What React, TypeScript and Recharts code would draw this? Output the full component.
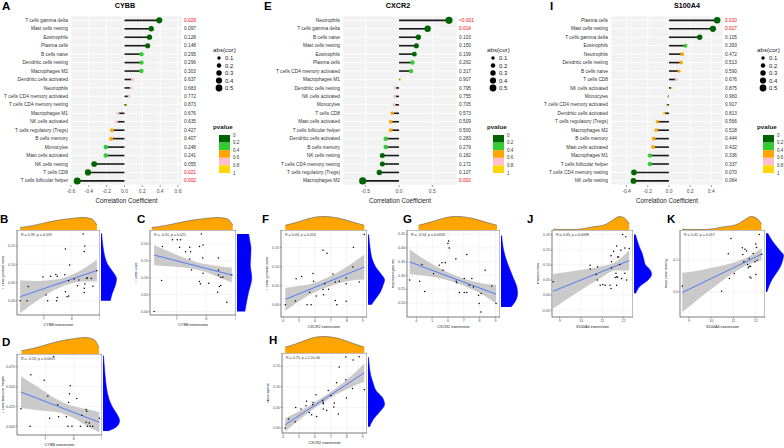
import React from "react";
import {
  AreaChart,
  Area,
  BarChart,
  Bar,
  ComposedChart,
  Line,
  Scatter,
  XAxis,
  YAxis,
  CartesianGrid,
  ReferenceArea,
} from "recharts";

const FONT = "'Liberation Sans', Arial, Helvetica, sans-serif";

// p-value colour bins (legend "pvalue") and dot size levels (legend "abs(cor)")
const pBins = [0.2, 0.4, 0.6, 0.8, 1.0];
const pColors = ["#006400", "#32CD32", "#FFA500", "#FFC0CB", "#FFD700"];
const pTickLabels = ["0", "0.2", "0.4", "0.6", "0.8", "1"];
const sizeLevels = [0.1, 0.2, 0.3, 0.4, 0.5];

// ---------- A: CYBB ----------
const cybbCells = [
  "T cells gamma delta", "Mast cells resting", "Eosinophils", "Plasma cells", "B cells naive",
  "Dendritic cells resting", "Macrophages M2", "Dendritic cells activated", "Neutrophils",
  "T cells CD4 memory activated", "T cells CD4 memory resting", "Macrophages M1", "NK cells activated",
  "T cells regulatory (Tregs)", "B cells memory", "Monocytes", "Mast cells activated", "NK cells resting",
  "T cells CD8", "T cells follicular helper",
];
const cybbCor = [0.39, 0.3, 0.28, 0.26, 0.19, 0.19, 0.19, 0.09, 0.075, 0.05, 0.025, -0.075, -0.09, -0.14, -0.15, -0.21, -0.21, -0.34, -0.41, -0.53];
const cybbP = ["0.029", "0.097", "0.128", "0.148", "0.295", "0.296", "0.303", "0.637", "0.683", "0.772", "0.873", "0.676", "0.635", "0.427", "0.407", "0.248", "0.241", "0.055", "0.021", "0.002"];

// ---------- E: CXCR2 ----------
const cxcr2Cells = [
  "Neutrophils", "T cells gamma delta", "B cells naive", "Mast cells resting", "Eosinophils", "Plasma cells",
  "T cells CD4 memory activated", "Macrophages M1", "Dendritic cells resting", "NK cells activated", "Monocytes",
  "T cells CD8", "Mast cells activated", "T cells follicular helper", "Dendritic cells activated", "B cells memory",
  "NK cells resting", "T cells CD4 memory resting", "T cells regulatory (Tregs)", "Macrophages M2",
];
const cxcr2Cor = [0.75, 0.43, 0.29, 0.26, 0.23, 0.2, 0.18, 0.02, -0.06, -0.065, -0.075, -0.1, -0.125, -0.125, -0.2, -0.2, -0.25, -0.25, -0.295, -0.545];
const cxcr2P = ["<0.001", "0.014", "0.103", "0.150", "0.199", "0.262", "0.317", "0.907", "0.795", "0.755", "0.705", "0.573", "0.509", "0.500", "0.283", "0.279", "0.182", "0.172", "0.107", "0.002"];

// ---------- I: S100A4 ----------
const s100Cells = [
  "Plasma cells", "Mast cells resting", "T cells gamma delta", "Eosinophils", "Neutrophils", "Dendritic cells resting",
  "B cells naive", "T cells CD8", "NK cells activated", "Monocytes", "T cells CD4 memory activated",
  "Dendritic cells activated", "T cells regulatory (Tregs)", "Macrophages M2", "B cells memory", "Mast cells activated",
  "Macrophages M1", "T cells follicular helper", "T cells CD4 memory resting", "NK cells resting",
];
const s100Cor = [0.455, 0.415, 0.29, 0.155, 0.125, 0.115, 0.095, 0.07, 0.025, -0.01, -0.02, -0.047, -0.11, -0.12, -0.145, -0.15, -0.18, -0.18, -0.33, -0.335];
const s100P = ["0.010", "0.017", "0.105", "0.393", "0.472", "0.513", "0.590", "0.676", "0.875", "0.960", "0.917", "0.813", "0.566", "0.518", "0.444", "0.432", "0.336", "0.337", "0.070", "0.064"];

// ---------- marginal densities of expression (top, orange) ----------
const cybbDens = [[6.16, 0.2], [6.6, 0.35], [7.0, 0.55], [7.5, 0.78], [8.0, 0.93], [8.4, 1.0], [8.7, 0.9], [8.89, 0.4]];
const cxcr2Dens = [[4.14, 0.35], [4.8, 0.55], [5.5, 0.8], [6.0, 0.95], [6.5, 1.0], [7.0, 0.97], [7.6, 0.85], [8.2, 0.65], [8.7, 0.48], [9.1, 0.35]];
const s100Dens = [[8.69, 0.06], [9.2, 0.03], [9.7, 0.04], [10.2, 0.12], [10.6, 0.25], [10.9, 0.3], [11.2, 0.45], [11.5, 0.75], [11.8, 1.0], [12.0, 0.92], [12.15, 0.7], [12.26, 0.45]];

// ---------- B: CYBB vs T cells gamma delta ----------
const bPoints = [[6.16, 0.0], [6.41, 0.0], [6.45, 0.039], [6.97, 0.065], [7.08, 0.016], [7.14, 0.0], [7.25, 0.067], [7.43, 0.072], [7.46, 0.0], [7.48, 0.067], [7.48, 0.009], [7.75, 0.071], [7.77, 0.142], [7.77, 0.025], [7.83, 0.011], [7.89, 0.055], [7.89, 0.013], [7.92, 0.098], [8.08, 0.06], [8.2, 0.041], [8.25, 0.057], [8.4, 0.183], [8.44, 0.135], [8.44, 0.034], [8.44, 0.023], [8.46, 0.15], [8.46, 0.046], [8.52, 0.061], [8.55, 0.063], [8.69, 0.061], [8.75, 0.04], [8.89, 0.082]];
const bFit = [[6.16, 0.011], [8.89, 0.083]];
const bBand = [[6.16, -0.034, 0.056], [6.8, 0.002, 0.054], [7.4, 0.03, 0.058], [7.9, 0.046, 0.068], [8.4, 0.053, 0.087], [8.89, 0.053, 0.113]];
const bRight = [[0.0, 0.6], [0.02, 0.72], [0.04, 0.9], [0.06, 1.0], [0.08, 0.75], [0.1, 0.42], [0.12, 0.25], [0.15, 0.12], [0.185, 0.04]];

// ---------- C: CYBB vs T cells CD8 ----------
const cPoints = [[6.24, 0.0], [6.49, 0.092], [6.52, 0.192], [6.86, 0.212], [7.02, 0.212], [7.13, 0.212], [7.1, 0.19], [7.3, 0.177], [7.44, 0.19], [7.47, 0.177], [7.44, 0.155], [7.5, 0.123], [7.77, 0.192], [7.83, 0.229], [7.89, 0.197], [7.88, 0.158], [7.77, 0.089], [7.8, 0.082], [7.89, 0.113], [8.08, 0.084], [8.41, 0.158], [8.41, 0.123], [8.41, 0.108], [8.49, 0.101], [8.56, 0.102], [8.44, 0.074], [8.49, 0.077], [8.38, 0.057], [8.69, 0.028], [8.86, 0.108]];
const cFit = [[6.24, 0.167], [8.86, 0.108]];
const cBand = [[6.24, 0.137, 0.197], [6.8, 0.133, 0.175], [7.4, 0.128, 0.154], [7.9, 0.119, 0.141], [8.4, 0.102, 0.134], [8.86, 0.086, 0.13]];
const cRight = [[0.0, 0.5], [0.03, 0.62], [0.059, 0.75], [0.08, 0.88], [0.099, 0.95], [0.12, 0.9], [0.138, 0.85], [0.16, 0.88], [0.187, 0.9], [0.21, 0.82], [0.229, 0.75]];

// ---------- D: CYBB vs T cells follicular helper ----------
const dPoints = [[6.14, 0.022], [6.46, 0.0], [6.49, 0.065], [6.96, 0.058], [7.09, 0.038], [7.15, 0.01], [7.29, 0.088], [7.44, 0.027], [7.47, 0.012], [7.74, 0.012], [7.8, 0.0], [7.82, 0.03], [7.85, 0.041], [7.88, 0.051], [7.94, 0.0], [8.11, 0.035], [8.24, 0.0], [8.29, 0.014], [8.44, 0.021], [8.46, 0.019], [8.44, 0.005], [8.48, 0.0], [8.55, 0.004], [8.58, 0.0], [8.67, 0.0], [8.91, 0.01]];
const dFit = [[6.14, 0.043], [8.91, 0.005]];
const dBand = [[6.14, 0.023, 0.063], [6.8, 0.02, 0.048], [7.4, 0.018, 0.034], [7.9, 0.012, 0.026], [8.4, 0.002, 0.022], [8.91, -0.008, 0.018]];
const dRight = [[-0.006, 0.3], [0.0, 0.85], [0.007, 1.0], [0.015, 0.85], [0.025, 0.55], [0.035, 0.35], [0.05, 0.2], [0.065, 0.12], [0.08, 0.06], [0.089, 0.03]];

// ---------- F: CXCR2 vs T cells gamma delta ----------
const fPoints = [[4.14, 0.0], [4.78, 0.01], [4.82, 0.068], [5.16, 0.074], [5.51, 0.0], [5.67, 0.033], [5.76, 0.0], [5.88, 0.082], [5.92, 0.062], [6.09, 0.023], [6.51, 0.143], [6.51, 0.04], [6.55, 0.026], [6.61, 0.055], [6.76, 0.135], [6.86, 0.041], [7.13, 0.081], [7.28, 0.06], [7.28, 0.011], [7.38, 0.0], [7.53, 0.062], [7.96, 0.07], [7.96, 0.055], [7.96, 0.009], [8.38, 0.099], [8.42, 0.151], [8.79, 0.06], [9.1, 0.184]];
const fFit = [[4.14, 0.014], [9.1, 0.099]];
const fBand = [[4.14, -0.016, 0.044], [5.0, 0.009, 0.049], [5.8, 0.029, 0.055], [6.5, 0.042, 0.066], [7.3, 0.054, 0.082], [8.2, 0.063, 0.105], [9.1, 0.066, 0.132]];
const fRight = [[0.0, 0.2], [0.015, 0.45], [0.03, 0.7], [0.05, 0.9], [0.065, 1.0], [0.08, 0.8], [0.1, 0.45], [0.12, 0.25], [0.15, 0.12], [0.184, 0.04]];

// ---------- G: CXCR2 vs Macrophages M2 ----------
const gPoints = [[3.58, 0.283], [4.36, 0.34], [4.21, 0.279], [4.53, 0.242], [5.09, 0.306], [5.45, 0.337], [5.62, 0.346], [5.68, 0.319], [5.83, 0.346], [6.0, 0.416], [6.08, 0.4], [6.04, 0.425], [6.5, 0.361], [6.52, 0.279], [6.56, 0.273], [6.73, 0.238], [7.03, 0.289], [7.03, 0.238], [7.19, 0.238], [7.19, 0.376], [7.34, 0.264], [7.51, 0.289], [7.61, 0.258], [7.93, 0.228], [7.97, 0.198], [8.08, 0.167], [8.1, 0.234], [8.35, 0.319], [8.77, 0.262], [9.04, 0.198]];
const gFit = [[3.58, 0.349], [9.04, 0.232]];
const gBand = [[3.58, 0.304, 0.394], [4.5, 0.299, 0.359], [5.5, 0.29, 0.326], [6.5, 0.273, 0.299], [7.5, 0.25, 0.28], [8.3, 0.226, 0.27], [9.04, 0.198, 0.266]];
const gRight = [[0.185, 0.6], [0.21, 0.9], [0.235, 1.0], [0.26, 0.95], [0.29, 0.75], [0.32, 0.55], [0.36, 0.3], [0.4, 0.13], [0.445, 0.04]];

// ---------- H: CXCR2 vs Neutrophils ----------
const hPoints = [[4.14, 0.0], [4.35, 0.022], [4.76, 0.015], [4.8, 0.05], [5.13, 0.046], [5.44, 0.054], [5.48, 0.065], [5.65, 0.038], [5.8, 0.032], [5.86, 0.057], [5.9, 0.062], [6.07, 0.081], [6.11, 0.028], [6.49, 0.067], [6.53, 0.062], [6.53, 0.059], [6.53, 0.046], [6.74, 0.043], [6.84, 0.091], [7.01, 0.079], [7.22, 0.061], [7.19, 0.051], [7.36, 0.11], [7.47, 0.034], [7.53, 0.148], [7.94, 0.117], [7.98, 0.073], [7.94, 0.172], [8.36, 0.096], [8.4, 0.165], [8.78, 0.173], [9.1, 0.093]];
const hFit = [[4.14, 0.008], [9.1, 0.134]];
const hBand = [[4.14, -0.008, 0.024], [5.0, 0.019, 0.041], [5.8, 0.043, 0.057], [6.5, 0.061, 0.075], [7.3, 0.08, 0.096], [8.2, 0.098, 0.124], [9.1, 0.112, 0.156]];
const hRight = [[0.003, 0.1], [0.02, 0.3], [0.04, 0.72], [0.057, 1.0], [0.075, 0.85], [0.09, 0.5], [0.11, 0.3], [0.13, 0.15], [0.15, 0.08], [0.172, 0.03]];

// ---------- J: S100A4 vs Plasma cells ----------
const jPoints = [[8.69, 0.044], [10.43, 0.099], [10.43, 0.086], [10.78, 0.094], [10.71, 0.068], [10.77, 0.05], [10.9, 0.033], [11.02, 0.035], [11.13, 0.033], [11.36, 0.033], [11.41, 0.022], [11.41, 0.13], [11.43, 0.11], [11.43, 0.09], [11.53, 0.145], [11.67, 0.162], [11.72, 0.126], [11.77, 0.126], [11.82, 0.101], [11.87, 0.148], [11.64, 0.072], [11.67, 0.061], [11.72, 0.059], [11.6, 0.058], [11.67, 0.033], [11.9, 0.055], [11.95, 0.2], [12.06, 0.156], [12.1, 0.193], [12.14, 0.05], [12.26, 0.154], [12.06, 0.072]];
const jFit = [[8.69, 0.013], [12.26, 0.114]];
const jBand = [[8.69, -0.044, 0.07], [9.5, -0.006, 0.078], [10.3, 0.03, 0.086], [11.0, 0.06, 0.096], [11.6, 0.081, 0.109], [12.26, 0.081, 0.147]];
const jRight = [[0.006, 0.1], [0.03, 0.35], [0.05, 0.8], [0.068, 1.0], [0.085, 0.9], [0.1, 0.65], [0.12, 0.55], [0.14, 0.45], [0.16, 0.3], [0.18, 0.18], [0.2, 0.08]];

// ---------- K: S100A4 vs Mast cells resting ----------
const kPoints = [[8.7, 0.019], [10.47, 0.002], [10.89, 0.168], [10.77, 0.12], [10.82, 0.042], [11.04, 0.058], [11.4, 0.139], [11.42, 0.118], [11.52, 0.134], [11.59, 0.129], [11.47, 0.095], [11.64, 0.086], [11.71, 0.105], [11.71, 0.081], [11.77, 0.081], [11.67, 0.076], [11.74, 0.047], [11.79, 0.044], [11.89, 0.121], [12.01, 0.151], [12.04, 0.14], [11.97, 0.095], [12.07, 0.1], [12.16, 0.181], [12.01, 0.055], [12.27, 0.119]];
const kFit = [[8.7, -0.002], [12.27, 0.119]];
const kBand = [[8.7, -0.064, 0.06], [9.5, -0.018, 0.068], [10.3, 0.024, 0.08], [11.0, 0.06, 0.092], [11.6, 0.084, 0.108], [12.27, 0.1, 0.138]];
const kRight = [[0.0, 0.05], [0.02, 0.18], [0.04, 0.35], [0.06, 0.6], [0.08, 0.82], [0.1, 0.95], [0.115, 1.0], [0.13, 0.8], [0.15, 0.5], [0.17, 0.25], [0.185, 0.1]];

const pNum = (s: string) => parseFloat(s.replace("<", ""));
const pColor = (p: number) => {
  const i = pBins.findIndex((b) => p <= b);
  return pColors[i < 0 ? pColors.length - 1 : i];
};
const dotR = (v: number) => 0.3 + 4.4 * Math.sqrt(Math.min(v, 0.55));

function Letter({ x, y, t }: { x: number; y: number; t: string }) {
  return (
    <div style={{ position: "absolute", left: x, top: y, fontSize: 11.5, fontWeight: 700, lineHeight: 1 }}>{t}</div>
  );
}

function Title({ cx, t }: { cx: number; t: string }) {
  return (
    <div style={{ position: "absolute", left: cx - 30, width: 60, top: 2, textAlign: "center", fontSize: 7.2, fontWeight: 700, lineHeight: 1 }}>
      {t}
    </div>
  );
}

function Lollipop({ left, width, axisW, names, cors, pvals, domain, ticks }: any) {
  const rows = names.map((name: string, i: number) => ({ name, cor: cors[i], p: pvals[i] }));
  const rightW = 18;
  const plotW = width - axisW - rightW;

  const NameTick = (props: any) => {
    const { x, y, payload } = props;
    const p = pvals[names.indexOf(payload.value)];
    return (
      <g>
        <text x={x} y={y} dy={1.7} textAnchor="end" fontSize={4.8} fill="#333">{payload.value}</text>
        <text x={x + 3 + plotW + 2} y={y} dy={1.7} textAnchor="start" fontSize={4.8} fill={pNum(p) < 0.05 ? "#FF0000" : "#333"}>{p}</text>
      </g>
    );
  };

  const Stick = (props: any) => {
    const { x, y, width: w, height: h, payload } = props;
    const a = x;
    const b = x + w;
    const pos = payload.cor >= 0;
    const end = pos ? Math.max(a, b) : Math.min(a, b);
    const zero = pos ? Math.min(a, b) : Math.max(a, b);
    const cy = y + h / 2;
    return (
      <g>
        <line x1={zero} x2={end} y1={cy} y2={cy} stroke="#1a1a1a" strokeWidth={1.6} />
        <circle cx={end} cy={cy} r={dotR(Math.abs(payload.cor))} fill={pColor(pNum(payload.p))} />
      </g>
    );
  };

  return (
    <div style={{ position: "absolute", left, top: 0 }}>
      <BarChart layout="vertical" width={width} height={203} data={rows} margin={{ top: 16, right: rightW, bottom: 0, left: 0 }}>
        <CartesianGrid fill="#F2F2F2" stroke="#FFFFFF" strokeWidth={0.8} />
        <XAxis
          type="number"
          domain={domain}
          ticks={ticks}
          allowDataOverflow
          interval={0}
          height={18}
          tickSize={2}
          tickLine={{ stroke: "#333", strokeWidth: 0.5 }}
          axisLine={false}
          tick={{ fontSize: 5, fill: "#4D4D4D" }}
          tickFormatter={(v: number) => v.toFixed(1)}
          label={{ value: "Correlation Coefficient", position: "insideBottom", offset: 0, fontSize: 6.3, fill: "#1a1a1a" }}
        />
        <YAxis type="category" dataKey="name" width={axisW} tick={NameTick} tickLine={false} axisLine={false} tickSize={0} tickMargin={3} interval={0} />
        <Bar dataKey="cor" shape={Stick} isAnimationActive={false} />
      </BarChart>
    </div>
  );
}

function SizeLegend({ x }: { x: number }) {
  return (
    <svg style={{ position: "absolute", left: x, top: 45 }} width={30} height={48}>
      <text x={1} y={7} fontSize={6.2} fill="#1a1a1a">abs(cor)</text>
      {sizeLevels.map((v, i) => (
        <g key={v}>
          <circle cx={7} cy={13 + i * 7.5} r={dotR(v)} fill="#000" />
          <text x={13} y={13 + i * 7.5 + 2.1} fontSize={6} fill="#1a1a1a">{v}</text>
        </g>
      ))}
    </svg>
  );
}

function PLegend({ x }: { x: number }) {
  return (
    <svg style={{ position: "absolute", left: x, top: 122 }} width={30} height={56}>
      <text x={1} y={7} fontSize={6.2} fontWeight={700} fill="#1a1a1a">pvalue</text>
      {pColors.map((c, i) => (
        <rect key={c} x={7} y={13 + i * 7.6} width={11} height={7.6} fill={c} />
      ))}
      {pTickLabels.map((t, i) => (
        <text key={t} x={21} y={13 + i * 7.6 + 1.6} fontSize={4.5} fill="#333">{t}</text>
      ))}
    </svg>
  );
}

const Pt = (p: any) => <circle cx={p.cx} cy={p.cy} r={0.75} fill="#000" />;

function ScatterPanel(props: any) {
  const { bx, by, bw, bh, topH, rightW, xDomain, yDomain, xTicks, yTicks, yDigits, pts, fit, band, top, right, xTitle, yTitle, stat } = props;
  const axW = 15;
  const axH = 11;
  const ptData = pts.map(([x, y]: number[]) => ({ x, y }));
  const fitData = fit.map(([x, y]: number[]) => ({ x, y }));
  const bandData = band.map(([x, lo, hi]: number[]) => ({ x, band: [lo, hi] }));
  const topData = top.map(([x, d]: number[]) => ({ x, d }));
  const rightData = right.map(([y, d]: number[]) => ({ y, d }));
  return (
    <>
      <div style={{ position: "absolute", left: bx, top: by - topH }}>
        <AreaChart width={bw} height={topH} data={topData} margin={{ top: 0.5, right: 0, bottom: 0, left: 0 }}>
          <XAxis type="number" dataKey="x" domain={xDomain} allowDataOverflow hide />
          <YAxis type="number" domain={[0, 1]} hide />
          <Area type="monotone" dataKey="d" stroke="#555" strokeWidth={0.6} fill="#FFA500" fillOpacity={1} isAnimationActive={false} />
        </AreaChart>
      </div>
      <div style={{ position: "absolute", left: bx - axW, top: by }}>
        <ComposedChart width={bw + axW} height={bh + axH} margin={{ top: 0, right: 0, bottom: 0, left: 0 }}>
          <CartesianGrid stroke="#EBEBEB" strokeWidth={0.5} />
          <XAxis
            type="number"
            dataKey="x"
            domain={xDomain}
            ticks={xTicks}
            allowDataOverflow
            interval={0}
            height={axH}
            tickSize={1.5}
            tickMargin={0.5}
            axisLine={false}
            tickLine={{ stroke: "#333", strokeWidth: 0.4 }}
            tick={{ fontSize: 3.6, fill: "#4D4D4D" }}
            label={{ value: xTitle, position: "insideBottom", offset: 0.5, fontSize: 3.8, fill: "#222" }}
          />
          <YAxis
            type="number"
            dataKey="y"
            domain={yDomain}
            ticks={yTicks}
            allowDataOverflow
            interval={0}
            width={axW}
            tickSize={1.5}
            tickMargin={0.5}
            axisLine={false}
            tickLine={{ stroke: "#333", strokeWidth: 0.4 }}
            tick={{ fontSize: 3.6, fill: "#4D4D4D" }}
            tickFormatter={(v: number) => v.toFixed(yDigits)}
            label={{ value: yTitle, angle: -90, position: "insideLeft", offset: 1, fontSize: 3.8, fill: "#222", style: { textAnchor: "middle" } }}
          />
          <Area data={bandData} dataKey="band" type="monotone" stroke="none" fill="#BDBDBD" fillOpacity={0.8} isAnimationActive={false} />
          <Line data={fitData} dataKey="y" type="linear" stroke="#3366FF" strokeWidth={0.8} dot={false} isAnimationActive={false} />
          <Scatter data={ptData} dataKey="y" shape={Pt} isAnimationActive={false} />
          <ReferenceArea x1={xDomain[0]} x2={xDomain[1]} y1={yDomain[0]} y2={yDomain[1]} fill="none" stroke="#333" strokeWidth={0.6} ifOverflow="visible" />
        </ComposedChart>
      </div>
      <div style={{ position: "absolute", left: bx + bw + 1, top: by }}>
        <AreaChart layout="vertical" width={rightW} height={bh} data={rightData} margin={{ top: 0, right: 0.5, bottom: 0, left: 0 }}>
          <XAxis type="number" domain={[0, 1]} hide />
          <YAxis type="number" dataKey="y" domain={yDomain} allowDataOverflow reversed hide />
          <Area type="monotone" dataKey="d" stroke="#0000FF" strokeWidth={0.6} fill="#0000FF" fillOpacity={1} isAnimationActive={false} />
        </AreaChart>
      </div>
      <div style={{ position: "absolute", left: bx + 4, top: by + 4, fontSize: 3.6, color: "#333", whiteSpace: "nowrap", lineHeight: 1 }}>
        {stat}
      </div>
    </>
  );
}

export default function App() {
  return (
    <div style={{ position: "absolute", left: 0, top: 0, width: 784, height: 448, background: "#fff", fontFamily: FONT, overflow: "hidden" }}>
      {/* lollipop panels */}
      <Letter x={2} y={1} t="A" />
      <Title cx={125} t="CYBB" />
      <Lollipop left={0} width={200} axisW={71} names={cybbCells} cors={cybbCor} pvals={cybbP} domain={[-0.6, 0.645]} ticks={[-0.6, -0.4, -0.2, 0, 0.2, 0.4, 0.6]} />
      <SizeLegend x={212} />
      <PLegend x={212} />

      <Letter x={264} y={1} t="E" />
      <Title cx={398} t="CXCR2" />
      <Lollipop left={260} width={215} axisW={83} names={cxcr2Cells} cors={cxcr2Cor} pvals={cxcr2P} domain={[-0.84, 0.87]} ticks={[-0.5, 0, 0.5]} />
      <SizeLegend x={486} />
      <PLegend x={486} />

      <Letter x={550} y={1} t="I" />
      <Title cx={687} t="S100A4" />
      <Lollipop left={520} width={221} axisW={91} names={s100Cells} cors={s100Cor} pvals={s100P} domain={[-0.547, 0.51]} ticks={[-0.4, -0.2, 0, 0.2, 0.4]} />
      <SizeLegend x={756} />
      <PLegend x={756} />

      {/* scatter panels */}
      <Letter x={0} y={214} t="B" />
      <ScatterPanel bx={17} by={230} bw={83} bh={85} topH={13} rightW={16} xDomain={[6.05, 9.0]} yDomain={[-0.039, 0.194]} xTicks={[7, 8, 9]} yTicks={[0, 0.05, 0.1, 0.15]} yDigits={2}
        pts={bPoints} fit={bFit} band={bBand} top={cybbDens} right={bRight} xTitle="CYBB expression" yTitle="T cells gamma delta" stat="R = 0.39, p = 0.029" />

      <Letter x={137} y={214} t="C" />
      <ScatterPanel bx={150} by={230} bw={86} bh={85} topH={13} rightW={16} xDomain={[6.1, 9.0]} yDomain={[-0.01, 0.241]} xTicks={[7, 8, 9]} yTicks={[0, 0.05, 0.1, 0.15, 0.2]} yDigits={2}
        pts={cPoints} fit={cFit} band={cBand} top={cybbDens} right={cRight} xTitle="CYBB expression" yTitle="T cells CD8" stat="R = -0.41, p = 0.021" />

      <Letter x={2} y={337} t="D" />
      <ScatterPanel bx={17} by={354} bw={85} bh={81} topH={17} rightW={17} xDomain={[6.0, 9.0]} yDomain={[-0.011, 0.091]} xTicks={[7, 8, 9]} yTicks={[0, 0.025, 0.05, 0.075]} yDigits={3}
        pts={dPoints} fit={dFit} band={dBand} top={cybbDens} right={dRight} xTitle="CYBB expression" yTitle="T cells follicular helper" stat="R = -0.53, p = 0.0019" />

      <Letter x={262} y={214} t="F" />
      <ScatterPanel bx={281} by={230} bw={86} bh={87} topH={14} rightW={17} xDomain={[3.87, 9.27]} yDomain={[-0.032, 0.196]} xTicks={[4, 5, 6, 7, 8, 9]} yTicks={[0, 0.05, 0.1, 0.15]} yDigits={2}
        pts={fPoints} fit={fFit} band={fBand} top={cxcr2Dens} right={fRight} xTitle="CXCR2 expression" yTitle="T cells gamma delta" stat="R = 0.43, p = 0.014" />

      <Letter x={403} y={214} t="G" />
      <ScatterPanel bx={407} by={230} bw={93} bh={87} topH={14} rightW={17} xDomain={[3.41, 9.29]} yDomain={[0.149, 0.465]} xTicks={[4, 5, 6, 7, 8, 9]} yTicks={[0.2, 0.25, 0.3, 0.35, 0.4, 0.45]} yDigits={2}
        pts={gPoints} fit={gFit} band={gBand} top={cxcr2Dens} right={gRight} xTitle="CXCR2 expression" yTitle="Macrophages M2" stat="R = -0.54, p = 0.0016" />

      <Letter x={269} y={335} t="H" />
      <ScatterPanel bx={282} by={353} bw={85} bh={80} topH={17} rightW={17} xDomain={[3.94, 9.27]} yDomain={[-0.012, 0.182]} xTicks={[4, 5, 6, 7, 8, 9]} yTicks={[0, 0.05, 0.1, 0.15]} yDigits={2}
        pts={hPoints} fit={hFit} band={hBand} top={cxcr2Dens} right={hRight} xTitle="CXCR2 expression" yTitle="Neutrophils" stat="R = 0.75, p = 2.2e-06" />

      <Letter x={527} y={214} t="J" />
      <ScatterPanel bx={552} by={230} bw={81} bh={87} topH={14} rightW={18} xDomain={[8.64, 12.44]} yDomain={[-0.072, 0.215]} xTicks={[9, 10, 11, 12]} yTicks={[-0.05, 0, 0.05, 0.1, 0.15, 0.2]} yDigits={2}
        pts={jPoints} fit={jFit} band={jBand} top={s100Dens} right={jRight} xTitle="S100A4 expression" yTitle="Plasma cells" stat="R = 0.45, p = 0.0098" />

      <Letter x={667} y={214} t="K" />
      <ScatterPanel bx={680} by={230} bw={85} bh={87} topH={14} rightW={18} xDomain={[8.6, 12.42]} yDomain={[-0.079, 0.195]} xTicks={[9, 10, 11, 12]} yTicks={[0, 0.1]} yDigits={1}
        pts={kPoints} fit={kFit} band={kBand} top={s100Dens} right={kRight} xTitle="S100A4 expression" yTitle="Mast cells resting" stat="R = 0.42, p = 0.017" />
    </div>
  );
}
